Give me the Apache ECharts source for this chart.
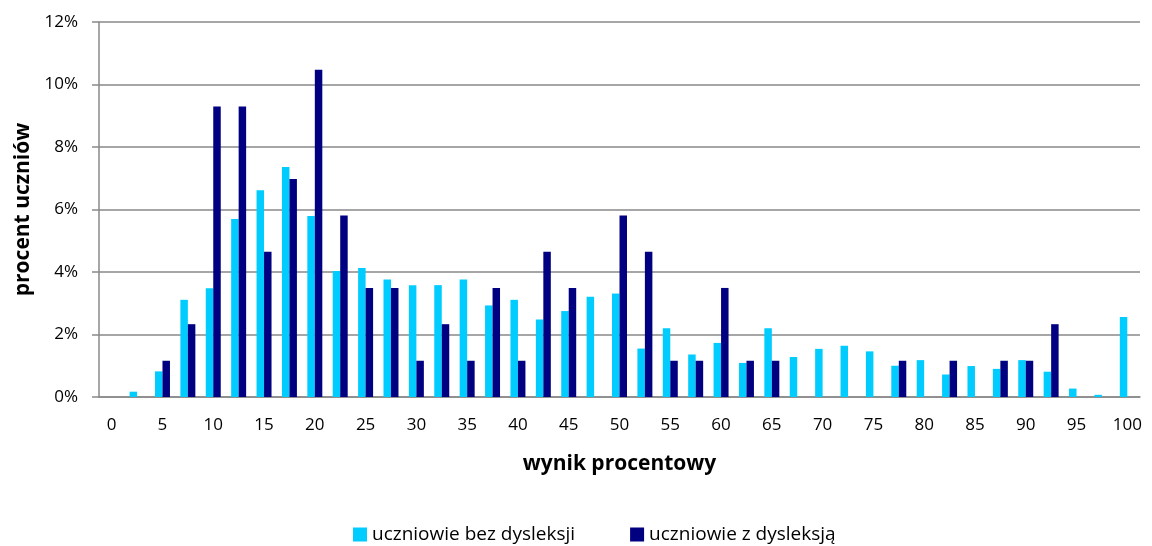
<!DOCTYPE html>
<html>
<head>
<meta charset="utf-8">
<script src="https://cdn.jsdelivr.net/npm/echarts@6/dist/echarts.min.js"></script>
<style>
  html, body { margin: 0; padding: 0; background: #fff; }
  #chart { width: 1152px; height: 546px; }
</style>
</head>
<body>
<div id="chart"></div>
<script>
// Score buckets (percent result), every 2.5 points
const categories = [
  '0', '2.5', '5', '7.5', '10', '12.5', '15', '17.5', '20', '22.5',
  '25', '27.5', '30', '32.5', '35', '37.5', '40', '42.5', '45', '47.5',
  '50', '52.5', '55', '57.5', '60', '62.5', '65', '67.5', '70', '72.5',
  '75', '77.5', '80', '82.5', '85', '87.5', '90', '92.5', '95', '97.5', '100'
];

// Share of students (%) in each bucket
const bezDysleksji = [
  0, 0.17, 0.82, 3.11, 3.48, 5.70, 6.62, 7.36, 5.79, 4.03,
  4.13, 3.76, 3.58, 3.58, 3.76, 2.93, 3.11, 2.48, 2.75, 3.21,
  3.31, 1.55, 2.20, 1.36, 1.73, 1.09, 2.20, 1.28, 1.54, 1.64,
  1.46, 1.00, 1.18, 0.72, 0.99, 0.90, 1.18, 0.81, 0.27, 0.07, 2.56
];

const zDysleksja = [
  0, 0, 1.16, 2.33, 9.30, 9.30, 4.65, 6.98, 10.47, 5.81,
  3.49, 3.49, 1.16, 2.33, 1.16, 3.49, 1.16, 4.65, 3.49, 0,
  5.81, 4.65, 1.16, 1.16, 3.49, 1.16, 1.16, 0, 0, 0,
  0, 1.16, 0, 1.16, 0, 1.16, 1.16, 2.33, 0, 0, 0
];

const yTicks = { min: 0, max: 12, step: 2 };

const FONT = '"Open Sans", "Noto Sans", sans-serif';
const GRID = '#898989';

const chart = echarts.init(document.getElementById('chart'), null, { renderer: 'canvas' });

chart.setOption({
  animation: false,
  backgroundColor: '#ffffff',
  textStyle: { fontFamily: FONT, color: '#000' },
  grid: { left: 99, right: 12, top: 22, bottom: 149, containLabel: false },
  legend: {
    left: 353,
    top: 525,
    padding: 0,
    itemWidth: 14,
    itemHeight: 14,
    itemGap: 55,
    icon: 'rect',
    textStyle: { fontFamily: FONT, fontSize: 19, color: '#000' },
    data: ['uczniowie bez dysleksji', 'uczniowie z dysleksją']
  },
  xAxis: {
    type: 'category',
    data: categories,
    name: 'wynik procentowy',
    nameLocation: 'middle',
    nameGap: 57,
    nameTextStyle: { fontFamily: FONT, fontSize: 21, fontWeight: 'bold', color: '#000' },
    axisLine: { show: true, lineStyle: { color: GRID, width: 1.5 } },
    axisTick: { show: false },
    axisLabel: { interval: 1, margin: 20, fontSize: 17, color: '#000', fontFamily: FONT },
    splitLine: { show: false }
  },
  yAxis: {
    type: 'value',
    min: yTicks.min,
    max: yTicks.max,
    interval: yTicks.step,
    name: 'procent uczniów',
    nameLocation: 'middle',
    nameRotate: 90,
    nameGap: 65,
    nameTextStyle: { fontFamily: FONT, fontSize: 21, fontWeight: 'bold', color: '#000' },
    axisLine: { show: true, lineStyle: { color: GRID, width: 1.5 } },
    axisTick: { show: true, inside: false, length: 7, lineStyle: { color: GRID, width: 1.5 } },
    axisLabel: { margin: 21, fontSize: 17, color: '#000', fontFamily: FONT, formatter: '{value}%' },
    splitLine: { show: true, lineStyle: { color: GRID, width: 1.5 } }
  },
  series: [
    {
      name: 'uczniowie bez dysleksji',
      type: 'bar',
      data: bezDysleksji,
      barGap: '0%',
      barCategoryGap: '41%',
      itemStyle: { color: '#00CCFF' }
    },
    {
      name: 'uczniowie z dysleksją',
      type: 'bar',
      data: zDysleksja,
      barGap: '0%',
      barCategoryGap: '41%',
      itemStyle: { color: '#000080' }
    }
  ]
});
</script>
</body>
</html>
